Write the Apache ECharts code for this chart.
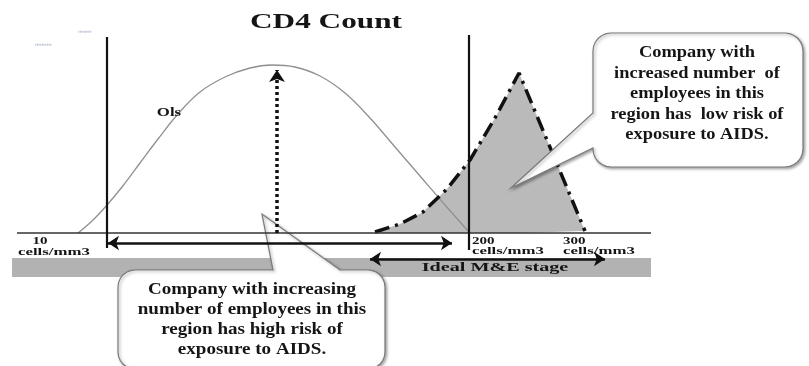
<!DOCTYPE html>
<html><head><meta charset="utf-8">
<script src="https://cdn.jsdelivr.net/npm/echarts@6/dist/echarts.min.js"></script>
<style>html,body{margin:0;padding:0;background:#fff}#c{width:809px;height:366px}</style>
</head><body><div id="c"></div>
<script>
// Diagram units: x = horizontal position along CD4 scale, y = height above baseline
const bellX = [78, 92, 107, 122, 140, 158, 178, 200, 225, 250, 272, 295, 320, 345, 370, 395, 420, 445, 470];
const bellY = [0, 12, 28, 46, 70, 94, 119, 141, 156, 165, 168, 166, 157, 140, 115, 86, 57, 28, 0];
const riskX = [375, 400, 423, 447, 470, 495, 519, 585];
const riskY = [1, 9, 21, 44, 73, 115, 160, 2];
const leftLineX = 107, leftLineTop = 196, leftLineBottom = -15;
const rightLineX = 469, rightLineTop = 198, rightLineBottom = -17;
const baseline = [17, 651];
const peakArrow = [277, 0, 163];
const highRiskArrow = [108, 452, -10];
const idealArrow = [370, 605, -26];
const band = [12, 651, -25, -44];
const tickLabels = [
  {num: '10', unit: 'cells/mm3'},
  {num: '200', unit: 'cells/mm3'},
  {num: '300', unit: 'cells/mm3'}
];
const titleText = 'CD4 Count';
const curveLabel = 'Ols';
const stageLabel = 'Ideal M&E stage';
const calloutHigh = ['Company with increasing', 'number of employees in this', 'region has high risk of', 'exposure to AIDS.'];
const calloutLow = ['Company with', 'increased number  of', 'employees in this', 'region has  low risk of', 'exposure to AIDS.'];

const chart = echarts.init(document.getElementById('c'), null, {renderer: 'canvas'});
const serif = '"Liberation Serif","Times New Roman",serif';
function txt(text, x, y, size, sx, z, align, lh) {
  return {
    type: 'text', x: x, y: y, scaleX: sx, z: z, silent: true,
    style: {text: text, font: 'bold ' + size + 'px ' + serif, fill: '#151515',
      textAlign: align || 'center', align: align || 'center',
      textVerticalAlign: 'middle', verticalAlign: 'middle', lineHeight: lh || size * 1.2}
  };
}
function arc(cx, cy, r, a0, a1) {
  const pts = [];
  for (let i = 0; i <= 6; i++) {
    const a = (a0 + (a1 - a0) * i / 6) * Math.PI / 180;
    pts.push([cx + r * Math.cos(a), cy + r * Math.sin(a)]);
  }
  return pts;
}
function calloutLeftTail(l, t, r, b, rad, y1, y2, tip) {
  let p = [];
  p = p.concat(arc(l + rad, t + rad, rad, 180, 270));
  p = p.concat(arc(r - rad, t + rad, rad, 270, 360));
  p = p.concat(arc(r - rad, b - rad, rad, 0, 90));
  p = p.concat(arc(l + rad, b - rad, rad, 90, 180));
  p.push([l, y2], tip, [l, y1]);
  return p;
}
function calloutTopTail(l, t, r, b, rad, x1, x2, tip) {
  let p = [];
  p = p.concat(arc(l + rad, t + rad, rad, 180, 270));
  p.push([x1, t], tip, [x2, t]);
  p = p.concat(arc(r - rad, t + rad, rad, 270, 360));
  p = p.concat(arc(r - rad, b - rad, rad, 0, 90));
  p = p.concat(arc(l + rad, b - rad, rad, 90, 180));
  return p;
}
const calloutStyle = {fill: '#fff', stroke: '#7a7a7a', lineWidth: 1.2, shadowBlur: 3, shadowOffsetX: 1.5, shadowOffsetY: 1.5, shadowColor: 'rgba(0,0,0,0.35)'};
const option = {
  animation: false,
  backgroundColor: '#fff',
  grid: {left: 0, right: 0, top: 0, bottom: 0, containLabel: false},
  xAxis: {type: 'value', min: 0, max: 809, show: false},
  yAxis: {type: 'value', min: -133, max: 233, show: false},
  series: [
    {type: 'line', z: 1, silent: true, data: [],
      markArea: {silent: true, itemStyle: {color: '#b2b2b2', opacity: 1},
        data: [[{coord: [band[0], band[2]]}, {coord: [band[1], band[3]]}]]}},
    {type: 'line', z: 1, silent: true, data: [],
      markLine: {silent: true, symbol: ['none', 'arrow'], symbolSize: 12, label: {show: false},
        lineStyle: {color: '#111', width: 3.5, type: [3, 3]},
        data: [[{coord: [peakArrow[0], peakArrow[1]]}, {coord: [peakArrow[0], peakArrow[2]]}]]}},
    {type: 'line', z: 2, silent: true, smooth: 0.4, showSymbol: false,
      lineStyle: {color: '#909090', width: 1.3},
      data: bellX.map((x, i) => [x, bellY[i]])},
    {type: 'line', z: 2, silent: true, showSymbol: false,
      lineStyle: {color: '#111', width: 3.5, type: [15, 6, 3, 6]},
      areaStyle: {color: '#bababa', opacity: 1},
      data: riskX.map((x, i) => [x, riskY[i]])},
    {type: 'line', z: 4, silent: true, showSymbol: false, lineStyle: {color: '#333', width: 1.5},
      data: [[baseline[0], 0], [baseline[1], 0]]},
    {type: 'line', z: 4, silent: true, showSymbol: false, lineStyle: {color: '#111', width: 2.2},
      data: [[leftLineX, leftLineTop], [leftLineX, leftLineBottom]]},
    {type: 'line', z: 4, silent: true, showSymbol: false, lineStyle: {color: '#111', width: 2.2},
      data: [[rightLineX, rightLineTop], [rightLineX, rightLineBottom]]},
    {type: 'line', z: 4, silent: true, data: [],
      markLine: {silent: true, symbol: ['arrow', 'arrow'], symbolSize: 11, label: {show: false},
        lineStyle: {color: '#111', width: 2.5, type: 'solid'},
        data: [
          [{coord: [highRiskArrow[0], highRiskArrow[2]]}, {coord: [highRiskArrow[1], highRiskArrow[2]]}],
          [{coord: [idealArrow[0], idealArrow[2]]}, {coord: [idealArrow[1], idealArrow[2]]}]
        ]}}
  ],
  graphic: [
    txt(titleText, 326, 22, 22, 1.42, 10),
    txt(curveLabel, 169, 113, 12, 1.4, 10),
    txt(stageLabel, 495, 268, 13, 1.55, 10),
    txt(tickLabels[0].num, 40, 241, 10, 1.5, 10),
    txt(tickLabels[0].unit, 18, 252, 10.5, 1.6, 10, 'left'),
    txt(tickLabels[1].num, 472, 241, 10, 1.5, 10, 'left'),
    txt(tickLabels[1].unit, 472, 251, 10.5, 1.6, 10, 'left'),
    txt(tickLabels[2].num, 563, 241, 10, 1.5, 10, 'left'),
    txt(tickLabels[2].unit, 563, 251, 10.5, 1.6, 10, 'left'),
    {type: 'text', x: 78, y: 29, z: 10, silent: true, style: {text: '››››››››', font: '5px sans-serif', fill: '#8894b8'}},
    {type: 'text', x: 35, y: 42, z: 10, silent: true, style: {text: '››››››››››', font: '5px sans-serif', fill: '#8894b8'}},
    {type: 'polygon', z: 3, silent: true,
      shape: {points: calloutTopTail(118, 270, 385, 369, 17, 273, 340, [262, 214])},
      style: calloutStyle},
    txt(calloutHigh.join('\n'), 252, 320, 17, 1.12, 11, 'center', 20),
    {type: 'polygon', z: 5, silent: true,
      shape: {points: calloutLeftTail(593, 33, 803, 167, 18, 113, 148, [511, 188])},
      style: calloutStyle},
    txt(calloutLow.join('\n'), 697, 94, 16, 1.15, 11, 'center', 20.5)
  ]
};
chart.setOption(option);
</script></body></html>
